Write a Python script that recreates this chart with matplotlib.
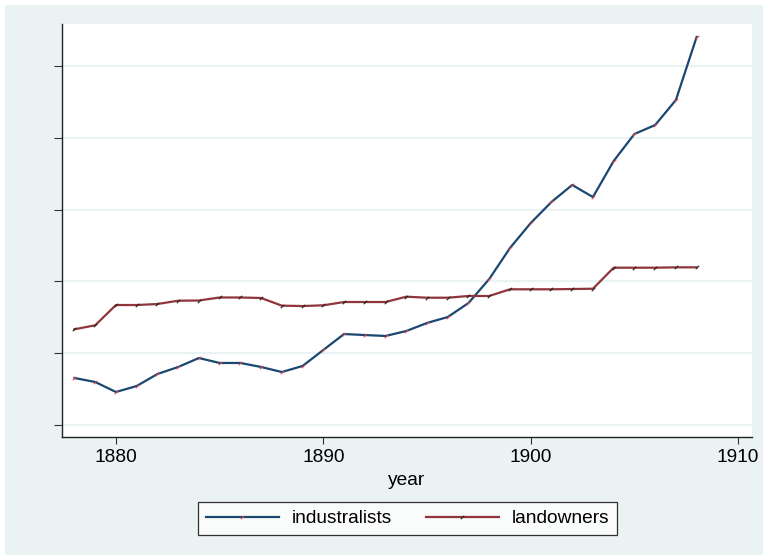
import matplotlib
matplotlib.use("Agg")
import matplotlib.pyplot as plt
from matplotlib.patches import Rectangle

years = list(range(1878, 1909))
industralists = [0.655, 0.599, 0.460, 0.543, 0.710, 0.808, 0.933, 0.864, 0.864, 0.808,
                 0.738, 0.822, 1.045, 1.267, 1.253, 1.240, 1.309, 1.421, 1.504, 1.699,
                 2.033, 2.465, 2.813, 3.106, 3.343, 3.175, 3.677, 4.053, 4.178, 4.526,
                 5.404]
landowners = [1.333, 1.389, 1.671, 1.671, 1.685, 1.731, 1.734, 1.776, 1.776, 1.769,
              1.662, 1.657, 1.667, 1.713, 1.713, 1.713, 1.787, 1.773, 1.773, 1.797,
              1.797, 1.890, 1.890, 1.890, 1.894, 1.898, 2.191, 2.191, 2.191, 2.196,
              2.196]
xticks = [1880, 1890, 1900, 1910]
yticks = [0, 1, 2, 3, 4, 5]

BG = "#EAF2F3"
BLUE = "#1a476f"
RED = "#90353b"
FS = 13.8

plt.rcParams['font.family'] = ['Liberation Sans', 'DejaVu Sans']

fig = plt.figure(figsize=(7.63, 5.55), dpi=100)
fig.patch.set_facecolor("white")
# light background with a thin white strip at top and left
fig.add_artist(Rectangle((5/763, 0), 1, 1 - 5/555, transform=fig.transFigure,
                         facecolor=BG, edgecolor='none', zorder=0))

ax = fig.add_axes([62/763, (555-437)/555, (752-62)/763, (437-24)/555])
ax.set_facecolor("white")

for yv in yticks:
    ax.axhline(yv, color=BG, lw=1.6, zorder=1)

ax.plot(years, industralists, color=BLUE, lw=1.6, marker=(2, 0, -45), ms=3.5,
        mec="#e8464e", mew=0.8, label="industralists", zorder=3)
ax.plot(years, landowners, color=RED, lw=1.6, marker=(2, 0, -45), ms=3.5,
        mec="#222222", mew=0.8, label="landowners", zorder=3)

ax.set_xlim(1877.4, 1910.67)
ax.set_ylim(-0.167, 5.585)
ax.set_xticks(xticks)
ax.set_yticks(yticks)
ax.set_yticklabels([])
ax.tick_params(axis='x', length=5, width=0.8, labelsize=FS, pad=4, color='#333333')
ax.tick_params(axis='y', length=6, width=0.8, color='#333333')
for s in ['top', 'right']:
    ax.spines[s].set_visible(False)
for s in ['left', 'bottom']:
    ax.spines[s].set_color('#222222')
    ax.spines[s].set_linewidth(1.0)

ax.set_xlabel("year", fontsize=FS, labelpad=4)

leg = fig.legend(loc='center', bbox_to_anchor=(407.5/763, 1 - 518.5/555), ncol=2,
                 fontsize=FS, frameon=True, fancybox=False, edgecolor='black',
                 handlelength=3.85, columnspacing=1.75, handletextpad=0.65,
                 borderpad=0.4, borderaxespad=0, markerscale=1.0)
leg.get_frame().set_linewidth(0.9)

fig.savefig("out.png", dpi=100, facecolor=fig.get_facecolor())
